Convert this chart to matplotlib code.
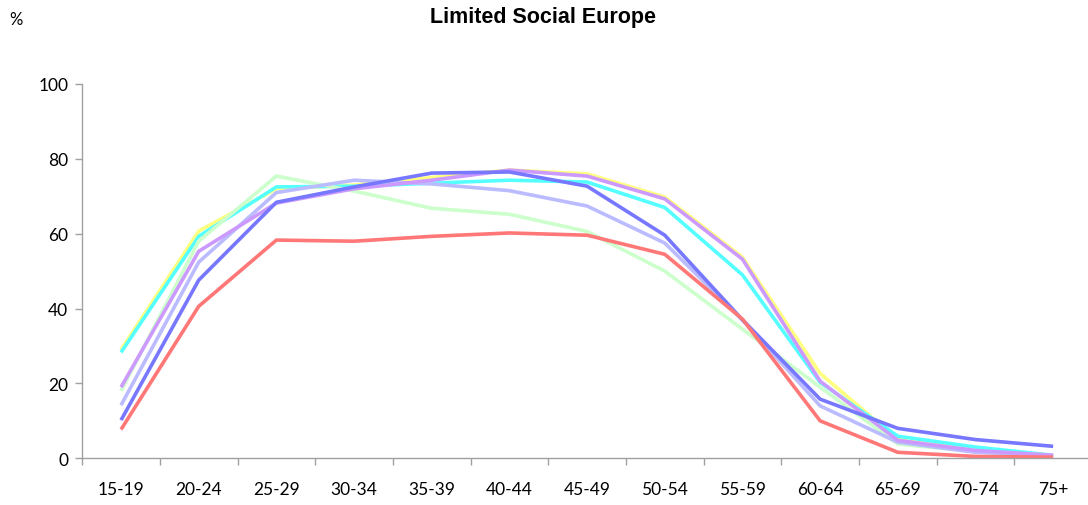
import matplotlib
matplotlib.use("Agg")
import matplotlib.pyplot as plt
import numpy as np

categories = ["15-19", "20-24", "25-29", "30-34", "35-39", "40-44", "45-49",
              "50-54", "55-59", "60-64", "65-69", "70-74", "75+"]

yellow = [29.0, 60.7, 72.0, 73.0, 75.0, 77.0, 76.0, 69.8, 53.7, 22.7, 5.0, 2.1, 0.8]
cyan = [28.3, 59.3, 72.5, 72.7, 73.5, 74.3, 73.8, 67.0, 49.0, 20.3, 5.9, 3.0, 0.8]
green = [18.0, 58.0, 75.4, 71.4, 66.8, 65.2, 60.6, 50.0, 34.5, 19.0, 3.8, 1.8, 0.8]
lavender = [14.2, 52.4, 71.0, 74.3, 73.3, 71.5, 67.4, 57.5, 37.0, 14.0, 4.3, 1.6, 0.8]
purple = [19.0, 55.3, 68.2, 72.0, 74.3, 77.0, 75.4, 69.3, 53.2, 20.6, 4.8, 2.1, 0.8]
blue = [10.2, 47.6, 68.4, 72.5, 76.2, 76.5, 72.7, 59.6, 37.0, 15.8, 8.0, 5.0, 3.2]
red = [7.7, 40.6, 58.3, 58.0, 59.3, 60.2, 59.6, 54.5, 37.2, 10.0, 1.6, 0.5, 0.3]

series = [
    (yellow, "#FFFF80"),
    (cyan, "#55FFFF"),
    (green, "#CCFFCC"),
    (lavender, "#BBBBFF"),
    (purple, "#CC99FF"),
    (blue, "#7777FF"),
    (red, "#FF7777"),
]

fig = plt.figure(figsize=(10.88, 5.06), dpi=100)
ax = fig.add_axes([82.2 / 1088, 1 - 459.3 / 506, (1092 - 82.2) / 1088, (459.3 - 85) / 506])

x = np.arange(len(categories))
for vals, col in series:
    ax.plot(x, vals, color=col, linewidth=2.6, solid_capstyle="butt")

ax.set_xlim(-0.5, len(categories) - 0.5)
ax.set_ylim(0, 100)
ax.set_yticks([0, 20, 40, 60, 80, 100])
ax.set_xticks(x)
ax.set_xticklabels(categories)
ax.set_xticks(np.arange(len(categories) + 1) - 0.5, minor=True)
ax.tick_params(axis="x", which="major", length=0, pad=16, labelsize=12.5)
ax.tick_params(axis="x", which="minor", length=5, color="#A0A0A0", width=1)
ax.tick_params(axis="y", length=5, color="#A0A0A0", width=1, labelsize=12.5, pad=5)
for lab in ax.get_xticklabels() + ax.get_yticklabels():
    lab.set_fontfamily("Lato")

for s in ["top", "right"]:
    ax.spines[s].set_visible(False)
for s in ["left", "bottom"]:
    ax.spines[s].set_color("#A0A0A0")
    ax.spines[s].set_linewidth(1)

fig.text(543 / 1088, 1 - 18 / 506, "Limited Social Europe", ha="center", va="center",
         fontsize=15.5, fontweight="bold", family="Liberation Sans")
fig.text(9 / 1088, 1 - 20 / 506, "%", ha="left", va="center", fontsize=12, family="Lato")

fig.savefig("out.png", dpi=100)
